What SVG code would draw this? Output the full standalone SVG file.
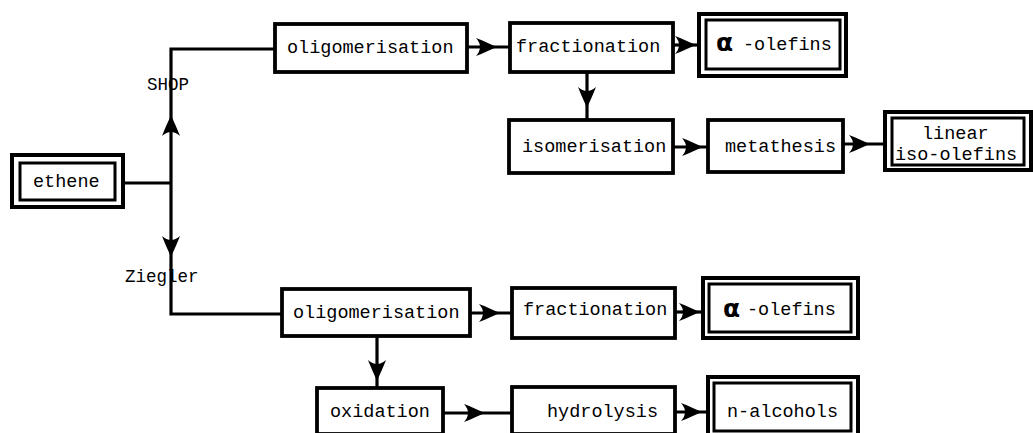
<svg xmlns="http://www.w3.org/2000/svg" xmlns:xlink="http://www.w3.org/1999/xlink" width="1033" height="433" viewBox="0 0 1033 433">
<style>
.box{fill:#fff;stroke:#000;stroke-width:3.8}
.outer{fill:#fff;stroke:#000;stroke-width:4}
.inner{fill:none;stroke:#000;stroke-width:3}
.t{font-family:"Liberation Mono","DejaVu Sans Mono",monospace;font-size:18.5px;fill:#000}
.lbl{font-family:"Liberation Mono","DejaVu Sans Mono",monospace;font-size:17.5px;fill:#000}
.alpha{font-family:"DejaVu Sans","Liberation Sans",sans-serif;font-size:25px;font-weight:bold;fill:#000}
.c{fill:none;stroke:#000;stroke-width:3.2}
</style>
<defs>
<path id="ah" d="M0,0 C-6,-2.5 -13,-6 -21,-9 Q-13,0 -21,9 C-13,6 -6,2.5 0,0 Z" fill="#000"/>
</defs>
<rect width="1033" height="433" fill="#fff"/>
<g id="connectors">
<path class="c" d="M123,183 H171"/>
<path class="c" d="M171,183 V49 H275"/>
<path class="c" d="M171,183 V314 H282"/>
<path class="c" d="M467,47 H510"/>
<path class="c" d="M673,45 H699"/>
<path class="c" d="M587,72 V120"/>
<path class="c" d="M673,147 H708"/>
<path class="c" d="M843,144 H885"/>
<path class="c" d="M470,313 H512"/>
<path class="c" d="M675,312 H703"/>
<path class="c" d="M377,336 V388"/>
<path class="c" d="M443,413 H512"/>
<path class="c" d="M675,412 H708"/>
<use xlink:href="#ah" transform="translate(171,115) rotate(-90)"/>
<use xlink:href="#ah" transform="translate(171,257) rotate(90)"/>
<use xlink:href="#ah" transform="translate(497,47)"/>
<use xlink:href="#ah" transform="translate(696,45)"/>
<use xlink:href="#ah" transform="translate(587,108) rotate(90)"/>
<use xlink:href="#ah" transform="translate(703,147)"/>
<use xlink:href="#ah" transform="translate(870,144)"/>
<use xlink:href="#ah" transform="translate(500,313)"/>
<use xlink:href="#ah" transform="translate(700,312)"/>
<use xlink:href="#ah" transform="translate(377,381) rotate(90)"/>
<use xlink:href="#ah" transform="translate(485,413)"/>
<use xlink:href="#ah" transform="translate(702,412)"/>
<text class="lbl" x="147" y="90">SHOP</text>
<text class="lbl" x="125" y="282">Ziegler</text>
</g>
<g id="ethene">
<rect class="outer" x="12" y="155" width="111" height="52"/>
<rect class="inner" x="20" y="163" width="95" height="37"/>
<text class="t" x="33" y="187">ethene</text>
</g>
<g id="oligomerisation-shop">
<rect class="box" x="275" y="24" width="192" height="48"/>
<text class="t" x="287" y="53">oligomerisation</text>
</g>
<g id="fractionation-shop">
<rect class="box" x="510" y="23" width="163" height="49"/>
<text class="t" x="516" y="52">fractionation</text>
</g>
<g id="alpha-olefins-shop">
<rect class="outer" x="699" y="14" width="147" height="62"/>
<rect class="inner" x="706" y="20" width="134" height="49"/>
<text class="alpha" x="716" y="51">α</text>
<text class="t" x="743" y="50">-olefins</text>
</g>
<g id="isomerisation">
<rect class="box" x="509" y="120" width="164" height="53"/>
<text class="t" x="522" y="152">isomerisation</text>
</g>
<g id="metathesis">
<rect class="box" x="708" y="120" width="135" height="52"/>
<text class="t" x="725" y="152">metathesis</text>
</g>
<g id="linear-iso-olefins">
<rect class="outer" x="885" y="112" width="146" height="58"/>
<rect class="inner" x="892" y="118" width="132" height="47"/>
<text class="t" x="922" y="139">linear</text>
<text class="t" x="895" y="160">iso-olefins</text>
</g>
<g id="oligomerisation-ziegler">
<rect class="box" x="282" y="289" width="188" height="47"/>
<text class="t" x="293" y="318">oligomerisation</text>
</g>
<g id="fractionation-ziegler">
<rect class="box" x="512" y="288" width="163" height="50"/>
<text class="t" x="523" y="315">fractionation</text>
</g>
<g id="alpha-olefins-ziegler">
<rect class="outer" x="703" y="278" width="155" height="60"/>
<rect class="inner" x="709" y="284" width="142" height="48"/>
<text class="alpha" x="723" y="317">α</text>
<text class="t" x="747" y="315">-olefins</text>
</g>
<g id="oxidation">
<rect class="box" x="317" y="388" width="126" height="46"/>
<text class="t" x="330" y="417">oxidation</text>
</g>
<g id="hydrolysis">
<rect class="box" x="512" y="387" width="163" height="47"/>
<text class="t" x="547" y="417">hydrolysis</text>
</g>
<g id="n-alcohols">
<rect class="outer" x="708" y="377" width="150" height="58"/>
<rect class="inner" x="714" y="383" width="137" height="48"/>
<text class="t" x="727" y="417">n-alcohols</text>
</g>
</svg>
